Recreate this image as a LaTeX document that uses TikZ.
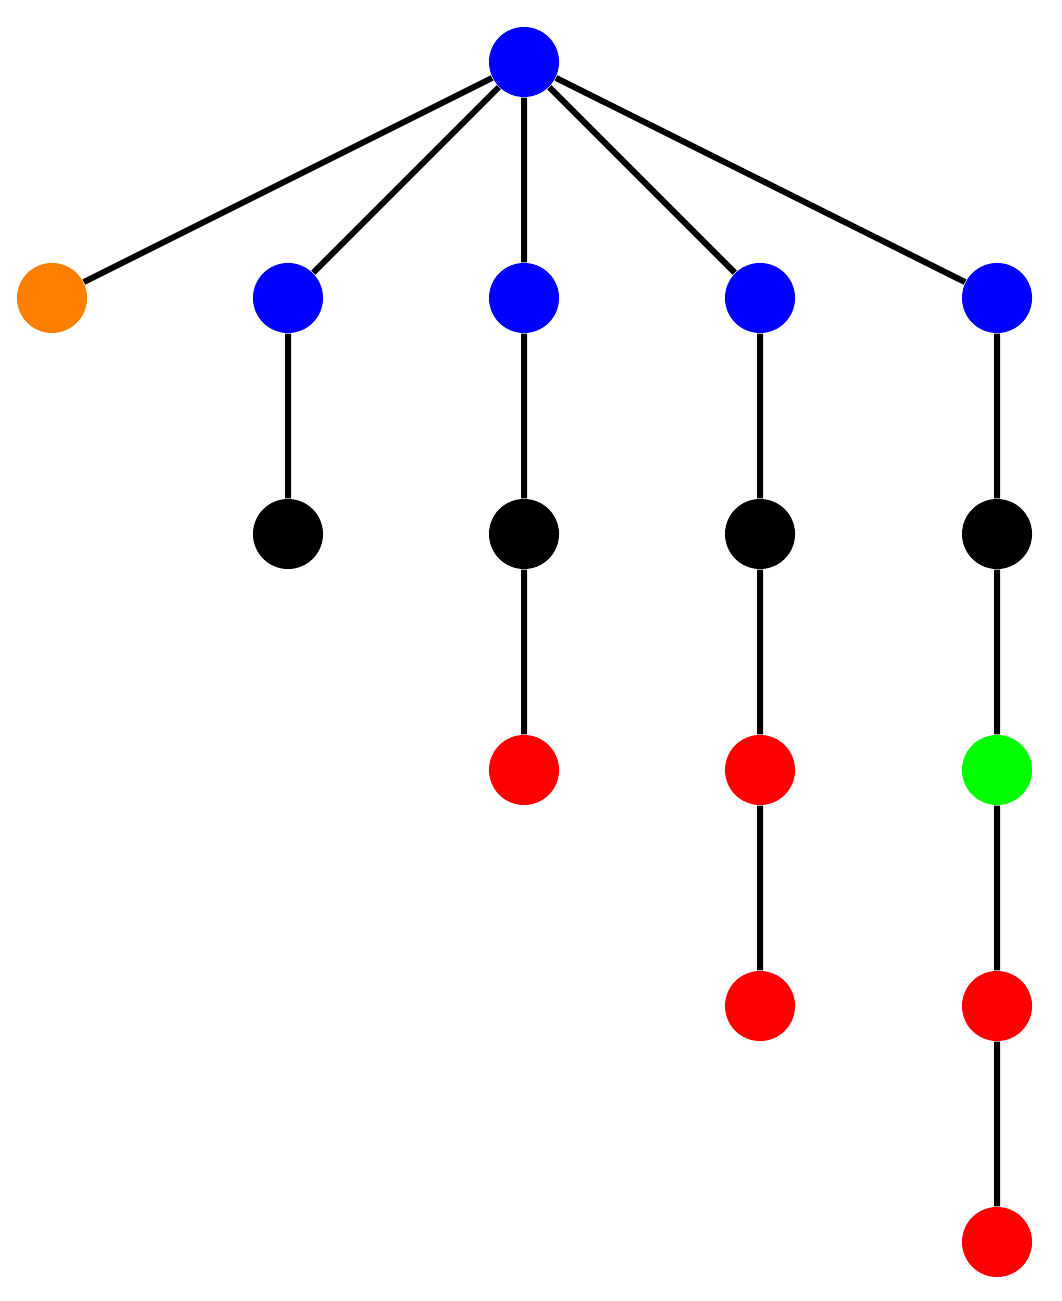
\documentclass[tikz,border=0pt]{standalone}
\begin{document}
\begin{tikzpicture}[x=0.01cm,y=-0.01cm,
  dot/.style={circle,minimum size=0.70cm,inner sep=0pt},
  edge/.style={line width=0.06cm}]
\useasboundingbox (0,0) rectangle (1061,1301);
\definecolor{myorange}{RGB}{255,128,0}
\definecolor{mygreen}{RGB}{0,255,0}
\node[dot,fill=blue] (r) at (524,62) {};
\node[dot,fill=myorange] (a) at (52,298) {};
\node[dot,fill=blue] (b) at (288,298) {};
\node[dot,fill=blue] (c) at (524,298) {};
\node[dot,fill=blue] (d) at (760,298) {};
\node[dot,fill=blue] (e) at (997,298) {};
\node[dot,fill=black] (b1) at (288,534) {};
\node[dot,fill=black] (c1) at (524,534) {};
\node[dot,fill=black] (d1) at (760,534) {};
\node[dot,fill=black] (e1) at (997,534) {};
\node[dot,fill=red] (c2) at (524,770) {};
\node[dot,fill=red] (d2) at (760,770) {};
\node[dot,fill=mygreen] (e2) at (997,770) {};
\node[dot,fill=red] (d3) at (760,1006) {};
\node[dot,fill=red] (e3) at (997,1006) {};
\node[dot,fill=red] (e4) at (997,1242) {};
\begin{scope}[on background layer/.try]
\end{scope}
\draw[edge] (r)--(a) (r)--(b) (r)--(c) (r)--(d) (r)--(e)
  (b)--(b1) (c)--(c1)--(c2) (d)--(d1)--(d2)--(d3) (e)--(e1)--(e2)--(e3)--(e4);
\end{tikzpicture}
\end{document}
